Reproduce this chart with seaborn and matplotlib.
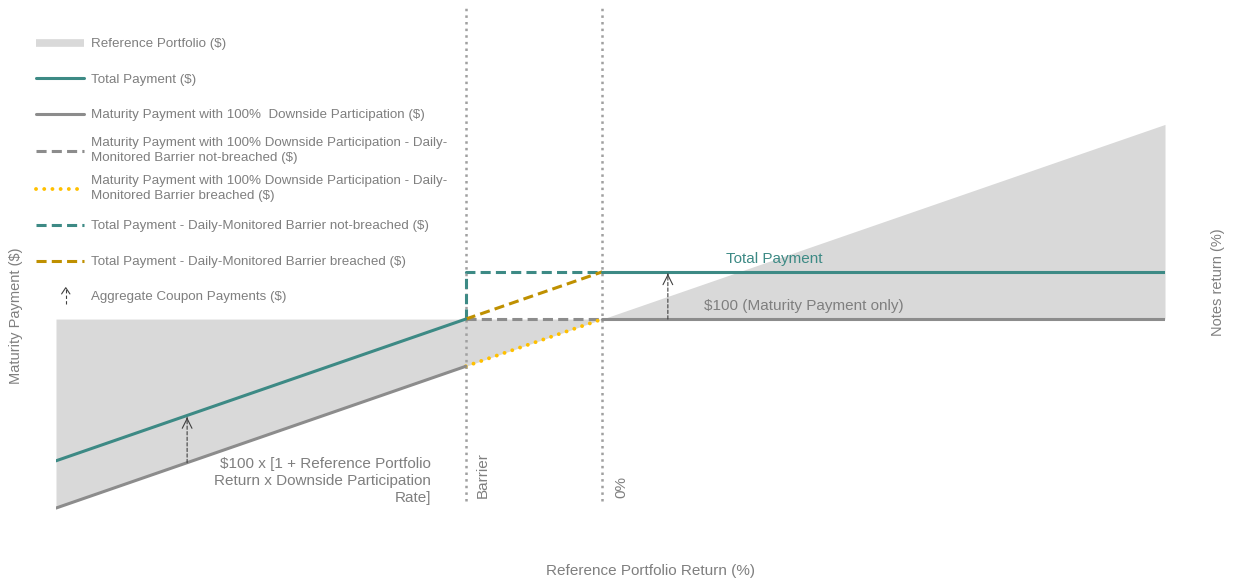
import numpy as np
import matplotlib.pyplot as plt
import seaborn as sns
from matplotlib.lines import Line2D
from matplotlib.legend_handler import HandlerBase, HandlerLine2D

# reference portfolio return (%) and its value ($) at the ends and the kink
ref_return = [-100, 0, 103]
ref_value = [0, 100, 203]
barrier = -25

# payment segments ($)
total_left_x = [-100, -25]
total_left_y = [25, 100]
total_right_x = [0, 103]
total_right_y = [125, 125]
maturity_left_x = [-100, -25]
maturity_left_y = [0, 75]
maturity_right_x = [0, 103]
maturity_right_y = [100, 100]
mat_not_breached_x = [-25, 0]
mat_not_breached_y = [100, 100]
mat_breached_x = [-25, 0]
mat_breached_y = [75, 100]
tot_not_breached_x = [-25, -25, 0]
tot_not_breached_y = [100, 125, 125]
tot_breached_x = [-25, 0]
tot_breached_y = [100, 125]

# coupon arrows
coupon_arrow_x = [-76, 12]
coupon_arrow_from = [24, 100]
coupon_arrow_to = [48, 124]

legend_labels = [
    "Reference Portfolio ($)",
    "Total Payment ($)",
    "Maturity Payment with 100%  Downside Participation ($)",
    "Maturity Payment with 100% Downside Participation - Daily-\nMonitored Barrier not-breached ($)",
    "Maturity Payment with 100% Downside Participation - Daily-\nMonitored Barrier breached ($)",
    "Total Payment - Daily-Monitored Barrier not-breached ($)",
    "Total Payment - Daily-Monitored Barrier breached ($)",
    "Aggregate Coupon Payments ($)",
]

TEAL = "#3d8a85"
GRAY = "#8c8c8c"
FILL = "#d9d9d9"
YELLOW = "#ffc000"
GOLD = "#bf9000"
TEXT = "#7f7f7f"
VLINE = "#a0a0a0"
ARROW = "#404040"

sns.set_style("white")
plt.rcParams["font.family"] = ["Liberation Sans", "DejaVu Sans"]

HANDLE_SHIFT = 2.8  # points, lowers legend keys onto the text line


class ShiftedLineHandler(HandlerLine2D):
    def create_artists(self, *args, **kwargs):
        artists = super().create_artists(*args, **kwargs)
        for a in artists:
            a.set_ydata(np.asarray(a.get_ydata(), dtype=float) - HANDLE_SHIFT)
        return artists


class CouponArrowHandler(HandlerBase):
    def create_artists(self, legend, orig_handle, xdescent, ydescent, width, height, fontsize, trans):
        cx = -xdescent + 0.62 * width
        cy = (height - ydescent) / 2 - HANDLE_SHIFT
        shaft = Line2D([cx, cx], [cy - 6, cy + 5], color=ARROW, lw=0.8, ls=(0, (3, 2)), transform=trans)
        head = Line2D([cx - 3, cx, cx + 3], [cy + 1.5, cy + 6, cy + 1.5], color=ARROW, lw=0.8, transform=trans)
        return [shaft, head]


fig = plt.figure(figsize=(12.34, 5.81), dpi=100)
ax = fig.add_axes([56 / 1234, 41 / 581, 1109 / 1234, 532 / 581])
ylim_top = 264.6
ax.set_xlim(-100, 103)
ax.set_ylim(-16.9, ylim_top)

ax.fill_between(ref_return, 100, ref_value, color=FILL, lw=0, zorder=1)
ax.vlines([barrier, 0], 4, ylim_top, colors=VLINE, linestyles=":", lw=1.8, zorder=1.5)


def seg(x, y, lw=2.2, **kw):
    sns.lineplot(x=x, y=y, ax=ax, estimator=None, sort=False, lw=lw, **kw)
    return ax.lines[-1]


dash = (3.3, 1.7)
h_mat_nb = seg(mat_not_breached_x, mat_not_breached_y, color=GRAY, dashes=dash, zorder=3)
h_mat_b = seg(mat_breached_x, mat_breached_y, lw=2.8, color=YELLOW, dashes=(0.01, 2.1),
              dash_capstyle="round", zorder=3)
h_tot_nb = seg(tot_not_breached_x, tot_not_breached_y, color=TEAL, dashes=dash, zorder=3)
h_tot_b = seg(tot_breached_x, tot_breached_y, color=GOLD, dashes=dash, zorder=3)
h_maturity = seg(maturity_left_x, maturity_left_y, color=GRAY, zorder=4)
seg(maturity_right_x, maturity_right_y, color=GRAY, zorder=4)
h_total = seg(total_left_x, total_left_y, color=TEAL, zorder=4)
seg(total_right_x, total_right_y, color=TEAL, zorder=4)

# aggregate coupon arrows: dashed shaft + solid open head
for x, y0, y1 in zip(coupon_arrow_x, coupon_arrow_from, coupon_arrow_to):
    ax.annotate("", xy=(x, y1), xytext=(x, y0),
                arrowprops=dict(arrowstyle="-", color=ARROW, lw=0.8, linestyle=(0, (3, 2)),
                                shrinkA=0, shrinkB=0), zorder=5)
    ax.annotate("", xy=(x, y1), xytext=(x, y1 - 1),
                arrowprops=dict(arrowstyle="->,head_length=0.7,head_width=0.35", color=ARROW,
                                lw=0.8, shrinkA=0, shrinkB=0), zorder=5)

ax.text(22.7, 131.7, "Total Payment", color=TEAL, fontsize=11, va="center")
ax.text(18.6, 106.9, "$100 (Maturity Payment only)", color=TEXT, fontsize=11, va="center")
ax.text(-31.4, 14.3, "$100 x [1 + Reference Portfolio\nReturn x Downside Participation\nRate]",
        color=TEXT, fontsize=11, ha="right", va="center", multialignment="right", linespacing=1.25)
ax.text(barrier + 3.1, 5.3, "Barrier", color=TEXT, fontsize=11, rotation=90, ha="center", va="bottom")
ax.text(3.5, 5.3, "0%", color=TEXT, fontsize=11, rotation=90, ha="center", va="bottom")

ax.set_xticks([])
ax.set_yticks([])
sns.despine(ax=ax, left=True, bottom=True)
ax.set_xlabel("Reference Portfolio Return (%)", color=TEXT, fontsize=11)
ax.xaxis.set_label_coords(0.5365, -0.045)
ax.set_ylabel("Maturity Payment ($)", color=TEXT, fontsize=10.5)
ax.yaxis.set_label_coords(-0.0298, 0.421)
ax.text(1.0478, 0.485, "Notes return (%)", transform=ax.transAxes, color=TEXT, fontsize=10.5,
        rotation=90, ha="center", va="center")

h_ref = Line2D([], [], color=FILL, lw=5.5, solid_capstyle="butt")
h_arrow = Line2D([], [])
handles = [h_ref, h_total, h_maturity, h_mat_nb, h_mat_b, h_tot_nb, h_tot_b, h_arrow]
leg = ax.legend(handles, legend_labels, loc="upper left", bbox_to_anchor=(36 / 1234, 1 - 31 / 581),
                bbox_transform=fig.transFigure, frameon=False, borderpad=0, borderaxespad=0,
                handlelength=3.6, handletextpad=0.5, handleheight=2.4, labelspacing=0.85,
                prop={"size": 9.6}, labelcolor=TEXT,
                handler_map={h_arrow: CouponArrowHandler(), Line2D: ShiftedLineHandler()})
for t in leg.get_texts():
    t.set_linespacing(1.3)

fig.savefig("out.png", dpi=100)
